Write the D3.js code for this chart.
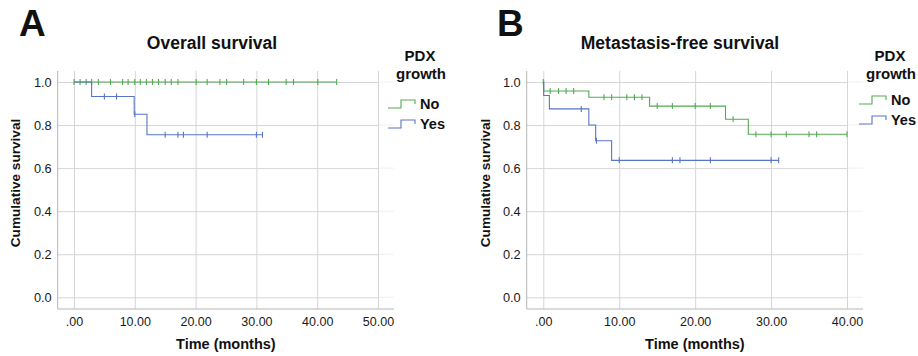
<!DOCTYPE html>
<html>
<head>
<meta charset="utf-8">
<script src="https://cdn.jsdelivr.net/npm/d3@7/dist/d3.min.js"></script>
<style>
  html, body { margin: 0; padding: 0; background: #fff; }
  svg { display: block; }
  text { font-family: "Liberation Sans", Arial, sans-serif; fill: #111; }
</style>
</head>
<body>
<svg id="chart" width="918" height="356"></svg>
<script>
// ---------- Data ----------
const groups = ["No", "Yes"];
const yTicks = [0, 0.2, 0.4, 0.6, 0.8, 1.0];
const yTickLabels = ["0.0", "0.2", "0.4", "0.6", "0.8", "1.0"];

// Panel A: Overall survival
const xTicksA = [0, 10, 20, 30, 40, 50];
const xTickLabelsA = [".00", "10.00", "20.00", "30.00", "40.00", "50.00"];
const osNoEventTimes = [];
const osNoSurvival = [];
const osNoCensor = [0, 1, 2, 2.9, 4, 6, 8, 8.9, 10, 10.9, 11.9, 12.9, 13.9, 15, 16, 17.1, 20.1, 21.9, 24, 25.1, 27.9, 30, 32, 34.9, 36.1, 40.1, 43.2];
const osNoEnd = 43.2;
const osYesEventTimes = [2.9, 9.9, 12];
const osYesSurvival = [0.933, 0.85, 0.755];
const osYesCensor = [5, 7, 10, 15, 17.1, 18, 21.9, 30, 31];
const osYesEnd = 31;

// Panel B: Metastasis-free survival
const xTicksB = [0, 10, 20, 30, 40];
const xTickLabelsB = [".00", "10.00", "20.00", "30.00", "40.00"];
const mfsNoEventTimes = [0.05, 6, 14, 24, 27];
const mfsNoSurvival = [0.958, 0.929, 0.888, 0.827, 0.757];
const mfsNoCensor = [0, 0.9, 2, 3, 4, 8, 9, 11, 12, 13, 15, 17, 20, 22, 25, 28, 30, 32, 35, 36, 40];
const mfsNoEnd = 40;
const mfsYesEventTimes = [0.05, 0.8, 6, 6.9, 9];
const mfsYesSurvival = [0.9375, 0.875, 0.80, 0.727, 0.636];
const mfsYesCensor = [5, 7, 10, 17, 18, 22, 30, 31];
const mfsYesEnd = 31;

// ---------- Styles ----------
const colors = { No: "#52aa52", Yes: "#5874c6" };
const svg = d3.select("#chart");

function survAt(times, surv, t) {
  let s = 1;
  for (let i = 0; i < times.length; i++) if (times[i] <= t) s = surv[i];
  return s;
}

function drawPanel(cfg) {
  const g = svg.append("g");
  const x = d3.scaleLinear().domain([0, cfg.xMax]).range([cfg.x0, cfg.x1]);
  const y = d3.scaleLinear().domain([0, 1]).range([297.3, 82]);
  const axisX = cfg.axisLeft, axisTop = 71, axisBottom = 309, axisRight = cfg.axisRight;

  // horizontal grid + y labels
  const ya = d3.axisLeft(y).tickValues(yTicks)
    .tickFormat((d, i) => yTickLabels[i])
    .tickSize(-(x(cfg.xMax) - axisX)).tickPadding(6);
  const yg = g.append("g").attr("transform", `translate(${axisX},0)`).call(ya);
  yg.select(".domain").remove();
  yg.selectAll(".tick line").attr("stroke", "#d6d6d6").attr("stroke-width", 1);
  yg.selectAll(".tick text").attr("font-size", 12.8).style("fill", "#1a1a1a");
  // faint extension of horizontal grid
  g.selectAll(".ext").data(yTicks).join("line")
    .attr("x1", x(cfg.xMax)).attr("x2", axisRight)
    .attr("y1", d => y(d)).attr("y2", d => y(d))
    .attr("stroke", "#f0f0f0");

  // vertical grid + x labels
  const xa = d3.axisBottom(x).tickValues(cfg.xTicks)
    .tickFormat((d, i) => cfg.xLabels[i])
    .tickSize(-(axisBottom - axisTop)).tickPadding(8);
  const xg = g.append("g").attr("transform", `translate(0,${axisBottom})`).call(xa);
  xg.select(".domain").remove();
  xg.selectAll(".tick line").attr("stroke", "#d6d6d6");
  xg.selectAll(".tick text").attr("font-size", 12.5).style("fill", "#1a1a1a");

  // axis lines
  g.append("line").attr("x1", axisX).attr("x2", axisX).attr("y1", axisTop).attr("y2", axisBottom)
    .attr("stroke", "#b5b5b5");
  g.append("line").attr("x1", axisX).attr("x2", axisRight).attr("y1", axisBottom).attr("y2", axisBottom)
    .attr("stroke", "#b5b5b5");

  // curves
  const line = d3.line().x(d => x(d[0])).y(d => y(d[1])).curve(d3.curveStepAfter);
  cfg.series.forEach(s => {
    const pts = [[0, 1]];
    s.times.forEach((t, i) => pts.push([t, s.surv[i]]));
    pts.push([s.end, s.surv.length ? s.surv[s.surv.length - 1] : 1]);
    g.append("path").attr("d", line(pts)).attr("fill", "none")
      .attr("stroke", colors[s.name]).attr("stroke-width", 1.1);
    g.selectAll(null).data(s.censor).join("line")
      .attr("x1", d => x(d)).attr("x2", d => x(d))
      .attr("y1", d => y(survAt(s.times, s.surv, d)) - 3)
      .attr("y2", d => y(survAt(s.times, s.surv, d)) + 3)
      .attr("stroke", colors[s.name]).attr("stroke-width", 1.1);
  });

  // titles
  g.append("text").attr("x", cfg.letterX).attr("y", 36).attr("font-size", 37)
    .attr("font-weight", "bold").text(cfg.letter);
  g.append("text").attr("x", cfg.titleX).attr("y", 49).attr("text-anchor", "middle")
    .attr("font-size", 17.5).attr("font-weight", "bold").text(cfg.title);
  g.append("text").attr("x", (axisX + axisRight) / 2).attr("y", 349).attr("text-anchor", "middle")
    .attr("font-size", 14.5).attr("font-weight", "bold").text("Time (months)");
  g.append("text").attr("transform", `translate(${cfg.yTitleX},183) rotate(-90)`)
    .attr("text-anchor", "middle").attr("dy", "0.35em")
    .attr("font-size", 13.6).attr("font-weight", "bold").text("Cumulative survival");

  // legend
  const lg = g.append("g");
  lg.append("text").attr("x", cfg.legX).attr("y", 60.5).attr("text-anchor", "middle")
    .attr("font-size", 15).attr("font-weight", "bold").text("PDX");
  lg.append("text").attr("x", cfg.legX + 1).attr("y", 78.5).attr("text-anchor", "middle")
    .attr("font-size", 15).attr("font-weight", "bold").text("growth");
  groups.forEach((name, i) => {
    const cy = cfg.legY + i * 20;
    const sx = cfg.symX;
    lg.append("path")
      .attr("d", `M${sx},${cy + 4}H${sx + 13}V${cy - 4}H${sx + 27}V${cy}`)
      .attr("fill", "none").attr("stroke", colors[name]).attr("stroke-width", 1.1);
    lg.append("text").attr("x", sx + 32).attr("y", cy).attr("dy", "0.35em")
      .attr("font-size", 14.5).attr("font-weight", "bold").text(name);
  });
}

drawPanel({
  letter: "A", letterX: 19, title: "Overall survival", titleX: 212,
  xMax: 50, x0: 74, x1: 378, axisLeft: 57.7, axisRight: 394,
  xTicks: xTicksA, xLabels: xTickLabelsA, yTitleX: 15,
  legX: 420, legY: 104, symX: 388,
  series: [
    { name: "No", times: osNoEventTimes, surv: osNoSurvival, censor: osNoCensor, end: osNoEnd },
    { name: "Yes", times: osYesEventTimes, surv: osYesSurvival, censor: osYesCensor, end: osYesEnd }
  ]
});

drawPanel({
  letter: "B", letterX: 497, title: "Metastasis-free survival", titleX: 680,
  xMax: 40, x0: 543.3, x1: 847, axisLeft: 526.7, axisRight: 863,
  xTicks: xTicksB, xLabels: xTickLabelsB, yTitleX: 485,
  legX: 890, legY: 100, symX: 859,
  series: [
    { name: "No", times: mfsNoEventTimes, surv: mfsNoSurvival, censor: mfsNoCensor, end: mfsNoEnd },
    { name: "Yes", times: mfsYesEventTimes, surv: mfsYesSurvival, censor: mfsYesCensor, end: mfsYesEnd }
  ]
});
</script>
</body>
</html>
